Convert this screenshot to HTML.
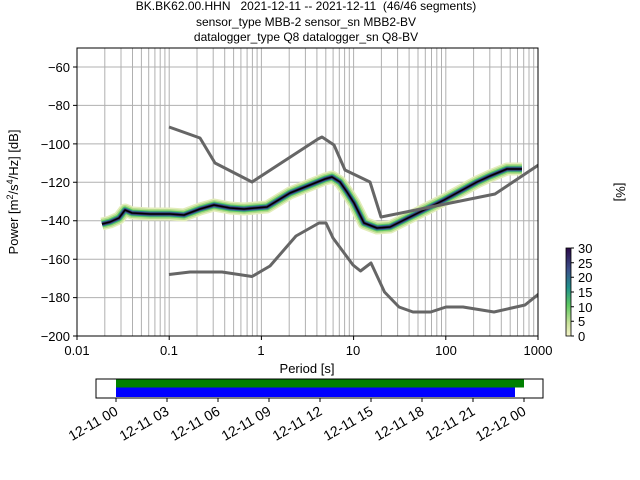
<!DOCTYPE html>
<html><head><meta charset="utf-8"><style>
body{margin:0;background:#fff;}
svg{display:block;font-family:"Liberation Sans","DejaVu Sans",sans-serif;}
</style></head><body>
<svg width="640" height="480" viewBox="0 0 640 480" xmlns="http://www.w3.org/2000/svg">
<defs>
<linearGradient id="cb" x1="0" y1="1" x2="0" y2="0">
<stop offset="0" stop-color="#f5f3c8"/>
<stop offset="0.15" stop-color="#c8e29a"/>
<stop offset="0.35" stop-color="#5ec962"/>
<stop offset="0.55" stop-color="#21918c"/>
<stop offset="0.75" stop-color="#3b528b"/>
<stop offset="1" stop-color="#2c0a4a"/>
</linearGradient>
<clipPath id="ax"><rect x="77" y="48" width="461" height="288"/></clipPath>
<path id="m" d="M102 224 L110 222 L119 218 L125 210 L132 213 L150 214 L170 214 L184 215 L200 209 L214 205 L230 208 L244 209 L267 207 L290 193 L310 185 L325 179 L332 177 L340 182 L347 192 L354 203 L364 223 L377 228 L390 227 L410 217 L444 200 L477 182 L490 176 L507 169 L522 169"/>
</defs>
<g font-size="12" text-anchor="middle" fill="#000" style="white-space:pre">
<text x="306" y="10" xml:space="preserve">BK.BK62.00.HHN   2021-12-11 -- 2021-12-11  (46/46 segments)</text>
<text x="306" y="26">sensor_type MBB-2 sensor_sn MBB2-BV</text>
<text x="306" y="41">datalogger_type Q8 datalogger_sn Q8-BV</text>
</g>
<g stroke="#b0b0b0" stroke-width="1" clip-path="url(#ax)">
<path d="M77 67H538M77 105.4H538M77 143.9H538M77 182.3H538M77 220.7H538M77 259.2H538M77 297.6H538"/>
<path id="dec" d="M104.8 48V336M121 48V336M132.5 48V336M141.4 48V336M148.7 48V336M154.9 48V336M160.2 48V336M164.9 48V336M169.2 48V336"/>
<use href="#dec" transform="translate(92.2 0)"/>
<use href="#dec" transform="translate(184.4 0)"/>
<use href="#dec" transform="translate(276.6 0)"/>
<use href="#dec" transform="translate(368.8 0)"/>
</g>
<g fill="none" stroke-linejoin="round" stroke-linecap="butt" clip-path="url(#ax)">
<use href="#m" stroke="#e3edbb" stroke-width="13"/>
<use href="#m" stroke="#b5dc8c" stroke-width="10"/>
<use href="#m" stroke="#5ec962" stroke-width="7"/>
<use href="#m" stroke="#2a7f8e" stroke-width="5"/>
<use href="#m" stroke="#3b2a6a" stroke-width="3"/>
<use href="#m" stroke="#000" stroke-width="1.5"/>
</g>
<g fill="none" stroke="#666" stroke-width="3" stroke-linejoin="round" clip-path="url(#ax)">
<path d="M169 127 L200 138 L215 163 L252 182 L318 139 L322 137 L334 145 L345 170 L370 182 L381 217 L495 194 L540 164"/>
<path d="M169 274.5 L190 272 L222 272 L252 276.5 L270 266 L296 236 L319 223 L326 223 L333 238 L353 265 L360.5 271 L371 263 L384.5 292 L399 307 L413 312 L430.7 312 L446 307 L463 307 L494 312 L525 305 L540 293"/>
</g>
<rect x="77" y="48" width="461" height="288" fill="none" stroke="#000" stroke-width="1"/>
<g stroke="#000"><path d="M73 67H77M73 105.4H77M73 143.9H77M73 182.3H77M73 220.7H77M73 259.2H77M73 297.6H77M73 336H77"/>
<path d="M77 336V340M169.2 336V340M261.4 336V340M353.6 336V340M445.8 336V340M538 336V340"/></g>
<g font-size="13" text-anchor="end" fill="#000">
<text x="70" y="72">−60</text><text x="70" y="110">−80</text><text x="70" y="149">−100</text><text x="70" y="187">−120</text><text x="70" y="225">−140</text><text x="70" y="264">−160</text><text x="70" y="302">−180</text><text x="70" y="341">−200</text>
</g>
<g font-size="13" text-anchor="middle" fill="#000">
<text x="77" y="355">0.01</text><text x="169" y="355">0.1</text><text x="261" y="355">1</text><text x="353" y="355">10</text><text x="446" y="355">100</text><text x="538" y="355">1000</text>
<text x="307" y="373">Period [s]</text>
</g>
<text transform="translate(18 192) rotate(-90)" font-size="13" text-anchor="middle">Power [m<tspan font-size="9" dy="-5">2</tspan><tspan dy="5">/s</tspan><tspan font-size="9" dy="-5">4</tspan><tspan dy="5">/Hz] [dB]</tspan></text>
<rect x="566" y="248" width="5" height="88" fill="url(#cb)" stroke="#000" stroke-width="0.8"/>
<g stroke="#000"><path d="M571 336h3M571 321.3h3M571 306.7h3M571 292h3M571 277.3h3M571 262.7h3M571 248h3"/></g>
<g font-size="13" fill="#000"><text x="578" y="341">0</text><text x="578" y="326">5</text><text x="578" y="312">10</text><text x="578" y="297">15</text><text x="578" y="282">20</text><text x="578" y="268">25</text><text x="578" y="253">30</text></g>
<text transform="translate(616 192) rotate(90)" font-size="13" text-anchor="middle">[%]</text>
<rect x="96" y="379" width="447" height="19" fill="#fff" stroke="#000"/>
<rect x="116" y="379.5" width="408" height="8" fill="#008000"/>
<rect x="116" y="387.5" width="399" height="9.5" fill="#0000ff"/>
<g stroke="#000"><path d="M116 398v4M167 398v4M218 398v4M269 398v4M320 398v4M371 398v4M422 398v4M473 398v4M524 398v4"/></g>
<g font-size="14" text-anchor="end" fill="#000">
<text transform="translate(119 414) rotate(-30)">12-11 00</text>
<text transform="translate(170 414) rotate(-30)">12-11 03</text>
<text transform="translate(221 414) rotate(-30)">12-11 06</text>
<text transform="translate(272 414) rotate(-30)">12-11 09</text>
<text transform="translate(323 414) rotate(-30)">12-11 12</text>
<text transform="translate(374 414) rotate(-30)">12-11 15</text>
<text transform="translate(425 414) rotate(-30)">12-11 18</text>
<text transform="translate(476 414) rotate(-30)">12-11 21</text>
<text transform="translate(527 414) rotate(-30)">12-12 00</text>
</g>
</svg>
</body></html>
